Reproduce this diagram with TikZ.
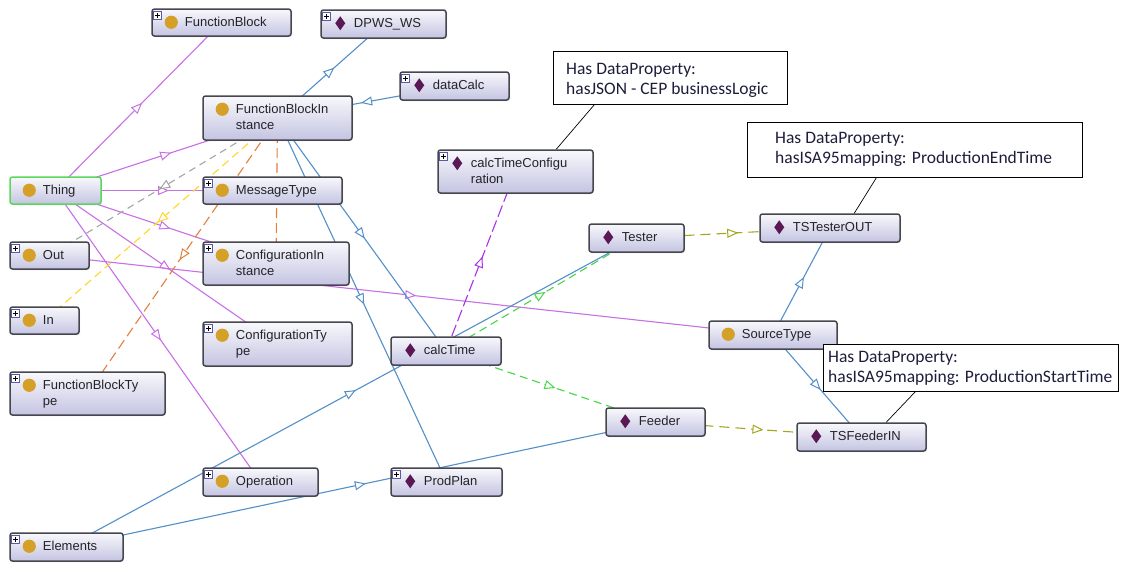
\documentclass[tikz,border=0pt]{standalone}
\usepackage{fontspec}
\setmainfont{Liberation Sans}
\newfontfamily\notefont{Carlito}
\usetikzlibrary{arrows.meta,decorations.markings,shadows,calc}
\pgfdeclarelayer{background}
\pgfsetlayers{background,main}

\definecolor{purp}{RGB}{200,112,230}
\definecolor{eblue}{RGB}{84,144,200}
\definecolor{egray}{RGB}{165,165,165}
\definecolor{eyellow}{RGB}{255,215,40}
\definecolor{eorange}{RGB}{228,128,60}
\definecolor{egreen}{RGB}{70,215,70}
\definecolor{eolive}{RGB}{165,165,30}
\definecolor{eviolet}{RGB}{170,50,230}
\definecolor{gold}{RGB}{212,160,40}
\definecolor{dpurple}{RGB}{90,25,85}
\definecolor{boxline}{RGB}{70,70,78}
\definecolor{thinggreen}{RGB}{90,215,90}
\definecolor{textgray}{RGB}{35,35,40}
\definecolor{notetext}{RGB}{30,30,60}
\definecolor{boxtop}{RGB}{248,248,252}
\definecolor{boxbottom}{RGB}{196,196,226}

\tikzset{
  boxextra/.style={},
  ontobox/.style={rectangle, rounded corners=2.5pt, draw=boxline, line width=1.5pt,
    top color=boxtop, bottom color=boxbottom, inner sep=0pt,
    drop shadow={opacity=0.25, shadow xshift=1pt, shadow yshift=-1pt}, boxextra},
  lbl/.style={font=\fontsize{13}{15}\selectfont, text=textgray, inner sep=0pt, anchor=base west},
  plusbox/.style={draw=gray!70!blue, fill=white, line width=0.6pt},
  plusmark/.style={draw=black, line width=0.8pt},
  notebox/.style={rectangle, draw=black, line width=0.9pt, fill=white, inner sep=0pt},
  notelbl/.style={font=\notefont\fontsize{17.5}{20}\selectfont, text=notetext, inner sep=0pt, anchor=base west},
  noteline/.style={draw=black, line width=0.7pt},
  edge/.style={line width=1.1pt},
  midarr/.style={postaction={decorate, decoration={markings,
      mark=at position #1 with {\arrow[xshift=5pt]{Triangle[length=11pt,width=9pt,fill=white,line width=1pt]}}}}},
  midarr/.default=0.5,
  subcls/.style={edge, draw=purp, midarr},
  bluel/.style={edge, draw=eblue, midarr},
  grayd/.style={edge, draw=egray, dash pattern=on 7pt off 5pt, midarr},
  yellowd/.style={edge, draw=eyellow, dash pattern=on 8pt off 5pt, midarr},
  oranged/.style={edge, draw=eorange, dash pattern=on 10pt off 5pt, midarr},
  greend/.style={edge, draw=egreen, dash pattern=on 8pt off 5pt, midarr},
  olived/.style={edge, draw=eolive, dash pattern=on 10pt off 6pt, midarr},
  violetd/.style={edge, draw=eviolet, dash pattern=on 12pt off 4pt, midarr},
}

% #1 name, #2-#5 box corners, #6 icon (0 class circle, 1 individual diamond),
% #7 expand marker (1/0), #8 first text line, #9 second text line
\newcommand\ontoentity[9]{%
  \node[ontobox, minimum width={(#4)-(#2)}, minimum height={(#5)-(#3)}] (#1)
    at ({((#2)+(#4))/2},{((#3)+(#5))/2}) {};
  \ifnum#6=0
    \fill[gold] ($(#1.north west)+(20,14)$) circle[radius=6.6pt];
  \else
    \fill[dpurple] ($(#1.north west)+(20,7)$) -- ++(5,7) -- ++(-5,7) -- ++(-5,-7) -- cycle;
  \fi
  \ifnum#7=1
    \draw[plusbox] ($(#1.north west)+(2,3)$) rectangle ++(8.5,8);
    \draw[plusmark] ($(#1.north west)+(6.25,4.5)$) -- ++(0,5)
                    ($(#1.north west)+(3.75,7)$) -- ++(5,0);
  \fi
  \node[lbl] (#1-a) at ($(#1.north west)+(33.5,18.7)$) {#8};
  \if\relax\detokenize{#9}\relax\else
    \node[lbl] (#1-b) at ($(#1.north west)+(33.5,34.3)$) {#9};
  \fi
}

% annotation box: #1 name, #2-#5 corners
\newcommand\annotbox[5]{%
  \node[notebox, minimum width={(#4)-(#2)}, minimum height={(#5)-(#3)}] (#1)
    at ({((#2)+(#4))/2},{((#3)+(#5))/2}) {};
}

\begin{document}
\begin{tikzpicture}[x=1pt,y=-1pt]
\useasboundingbox (0,0) rectangle (1121,563);

% classes and individuals
\ontoentity{FB}{152}{9}{291}{36}{0}{1}{FunctionBlock}{}
\ontoentity{DPWS}{321}{10}{446}{38}{1}{1}{DPWS\_WS}{}
\ontoentity{FBI}{203}{96}{352}{140}{0}{0}{FunctionBlockIn}{stance}
\ontoentity{dataCalc}{400}{72}{509}{100}{1}{1}{dataCalc}{}
\tikzset{boxextra/.style={draw=thinggreen}}
\ontoentity{Thing}{10}{177}{101}{204}{0}{0}{Thing}{}
\tikzset{boxextra/.style={}}
\ontoentity{MT}{203}{177}{342}{204}{0}{1}{MessageType}{}
\ontoentity{Out}{10}{242}{89}{269}{0}{1}{Out}{}
\ontoentity{CI}{203}{242}{349}{285}{0}{1}{ConfigurationIn}{stance}
\ontoentity{In}{10}{307}{79}{334}{0}{1}{In}{}
\ontoentity{CT}{203}{322}{352}{366}{0}{1}{ConfigurationTy}{pe}
\ontoentity{FBT}{10}{372}{165}{415}{0}{1}{FunctionBlockTy}{pe}
\ontoentity{cTC}{438}{150}{593}{193}{1}{1}{calcTimeConfigu}{ration}
\ontoentity{Tester}{589}{224}{684}{252}{1}{0}{Tester}{}
\ontoentity{TSTO}{760}{214}{900}{242}{1}{0}{TSTesterOUT}{}
\ontoentity{calcTime}{391}{337}{501}{365}{1}{0}{calcTime}{}
\ontoentity{ST}{709}{321}{837}{349}{0}{0}{SourceType}{}
\ontoentity{Feeder}{606}{408}{705}{436}{1}{0}{Feeder}{}
\ontoentity{TSFI}{797}{423}{926}{451}{1}{0}{TSFeederIN}{}
\ontoentity{Op}{203}{468}{318}{496}{0}{1}{Operation}{}
\ontoentity{PP}{391}{468}{502}{496}{1}{1}{ProdPlan}{}
\ontoentity{Elem}{10}{533}{123}{561}{0}{1}{Elements}{}

% annotations
\annotbox{note1}{553}{51}{787}{104}
\node[notelbl] (note1-a) at (566,74) {Has DataProperty:};
\node[notelbl] (note1-b) at (566,94) {hasJSON - CEP businessLogic};
\annotbox{note2}{747}{122}{1082}{177}
\node[notelbl] (note2-a) at (775,143) {Has DataProperty:};
\node[notelbl] (note2-b) at (775,163) {hasISA95mapping: ProductionEndTime};
\annotbox{note3}{823}{344}{1118}{391}
\node[notelbl] (note3-a) at (828,362) {Has DataProperty:};
\node[notelbl] (note3-b) at (828,382) {hasISA95mapping: ProductionStartTime};

\draw[noteline] ($(note1.south west)+(42,0)$) -- ($(cTC.north west)+(119,0)$);
\draw[noteline] ($(note2.south west)+(130,0)$) -- ($(TSTO.north west)+(95,0)$);
\draw[noteline] ($(note3.south west)+(93,0)$) -- ($(TSFI.north west)+(90,0)$);

\begin{pgfonlayer}{background}
  \fill[white] (0,0) rectangle (1121,563);
  % subclass links
  \draw[subcls] (Thing.center) -- (FB.center);
  \draw[subcls] (Thing.center) -- (FBI.center);
  \draw[subcls] (Thing.center) -- (MT.center);
  \draw[subcls] (Thing.center) -- (CI.center);
  \draw[subcls] (Thing.center) -- (CT.center);
  \draw[subcls] (Thing.center) -- (Op.center);
  \draw[subcls] (Out.center) -- (ST.center);
  % object properties of FunctionBlockInstance
  \draw[grayd] (FBI.center) -- (Out.center);
  \draw[yellowd] (FBI.center) -- (In.center);
  \draw[oranged] (FBI.center) -- (FBT.center);
  \draw[oranged] (FBI.center) -- (CI.center);
  % individual links
  \draw[bluel] (FBI.center) -- (DPWS.center);
  \draw[bluel] (dataCalc.center) -- (FBI.center);
  \draw[bluel] (FBI.center) -- (calcTime.center);
  \draw[bluel] (FBI.center) -- (PP.center);
  \draw[bluel] (Elem.center) -- (Tester.center);
  \draw[bluel] (Elem.center) -- (Feeder.center);
  \draw[bluel] (ST.center) -- (TSTO.center);
  \draw[bluel] (ST.center) -- (TSFI.center);
  \draw[greend] (calcTime.center) -- (Tester.center);
  \draw[greend] (calcTime.center) -- (Feeder.center);
  \draw[violetd] (calcTime.center) -- (cTC.center);
  \draw[olived] (Tester.center) -- (TSTO.center);
  \draw[olived] (Feeder.center) -- (TSFI.center);
\end{pgfonlayer}
\end{tikzpicture}
\end{document}
